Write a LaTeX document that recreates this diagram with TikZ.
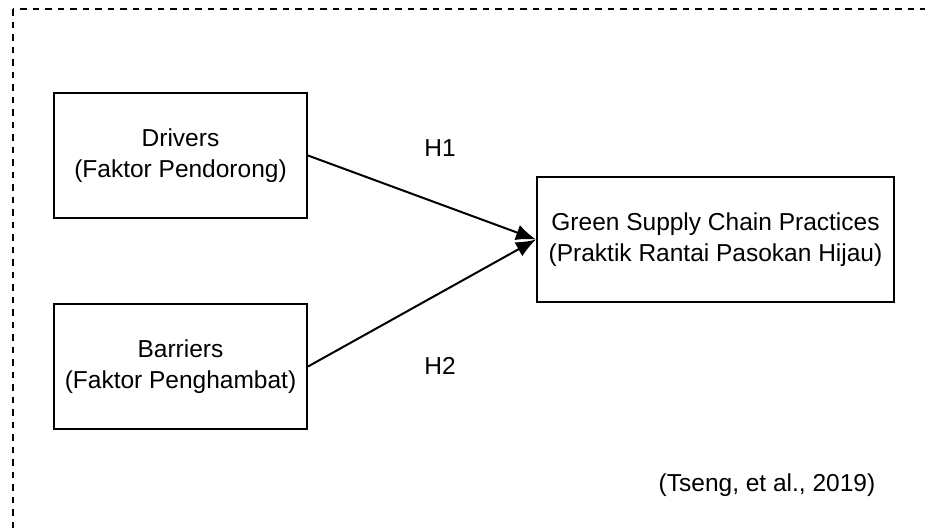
\documentclass[tikz,border=0pt]{standalone}
\usepackage{fontspec}
\setmainfont{Liberation Sans}
\usepackage{tikz}
\usetikzlibrary{arrows.meta,positioning}

\begin{document}
\begin{tikzpicture}[
    node distance=84pt,
    factor/.style={draw, line width=2pt, minimum height=125pt, align=center, inner sep=0pt,
        font=\fontsize{24.5}{31}\selectfont},
    tag/.style={font=\fontsize{24.5}{31}\selectfont, inner sep=0pt},
    link/.style={-{Latex[length=20pt,width=16pt]}, line width=2pt}
]
\clip (0pt,0pt) rectangle (925pt,-531pt);
\draw[line width=2pt, dash pattern=on 6.5pt off 6pt] (13pt,-9pt) rectangle (980pt,-580pt);

\node[factor, minimum width=253pt] (drivers) at (180.5pt,-155.5pt) {Drivers\\(Faktor Pendorong)};
\node[factor, minimum width=253pt, below=of drivers] (barriers) {Barriers\\(Faktor Penghambat)};
\node[factor, minimum width=357pt] (gscp) at (715.5pt,-239.5pt) {Green Supply Chain Practices\\(Praktik Rantai Pasokan Hijau)};

\node[tag] (h1) at (440pt,-148pt) {H1};
\node[tag] (h2) at (440pt,-366pt) {H2};
\node[tag] (cite) at (767pt,-485pt) {(Tseng, et al., 2019)};

\draw[link] (drivers.east) -- (gscp.west);
\draw[link] (barriers.east) -- (gscp.west);
\end{tikzpicture}
\end{document}
